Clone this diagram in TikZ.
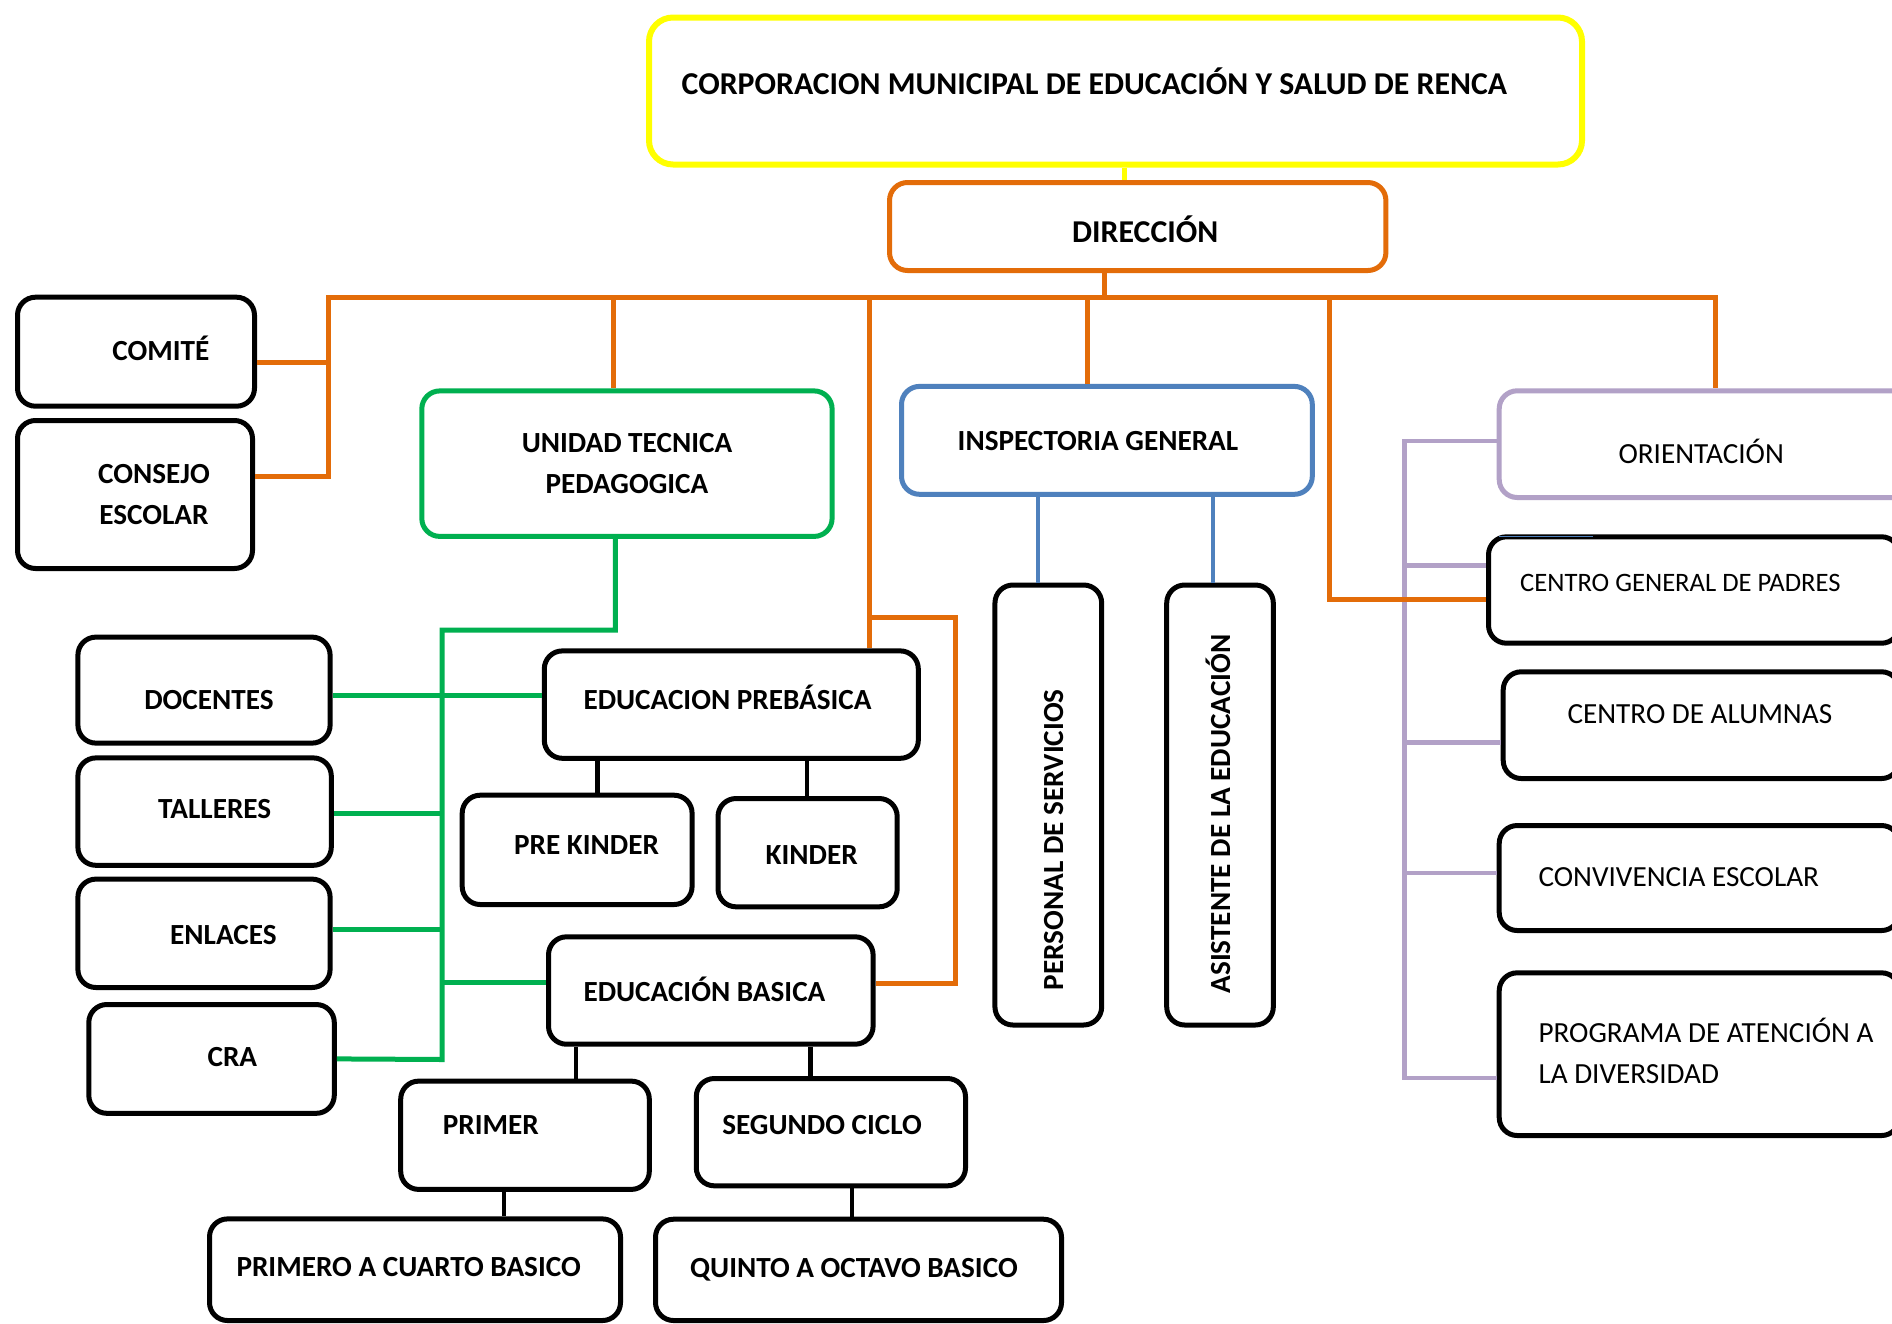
\documentclass[tikz,border=0pt]{standalone}
\usepackage{fontspec}
\setmainfont{Carlito}
\definecolor{cyel}{HTML}{FFFF00}
\definecolor{corg}{HTML}{E36C09}
\definecolor{cgrn}{HTML}{00B050}
\definecolor{cblu}{HTML}{4F81BD}
\definecolor{clil}{HTML}{B2A1C7}
\newcommand{\tbxl}[3]{\makebox[#1pt][l]{\hspace*{#2pt}#3}}
\newcommand{\natsp}{\spaceskip=0pt\xspaceskip=0pt\relax}
\tikzset{
  box/.style={draw=black, fill=white, rounded corners=18pt, line width=5pt, inner sep=0pt, anchor=north west},
  fb/.style={font=\fontsize{29.2pt}{41pt}\selectfont\bfseries},
  fr/.style={font=\fontsize{29.2pt}{41pt}\selectfont},
  ft/.style={font=\fontsize{31.8pt}{41pt}\selectfont\bfseries},
  fs/.style={font=\fontsize{26.6pt}{41pt}\selectfont},
  oline/.style={draw=corg, line width=5pt},
  gline/.style={draw=cgrn, line width=5pt},
  bline/.style={draw=cblu, line width=4pt},
  lline/.style={draw=clil, line width=4.5pt},
  kline/.style={draw=black, line width=4.5pt},
  yline/.style={draw=cyel, line width=5pt},
}
\begin{document}
\begin{tikzpicture}[x=1pt, y=-1pt]
\path[use as bounding box, fill=white] (0,0) rectangle (1892,1323);
\clip (0,0) rectangle (1892,1323);

% ---------- boxes ----------
\node[box, ft, draw=cyel, line width=6pt, rounded corners=24pt, minimum width=933pt, minimum height=147pt, text height=6.2pt, text depth=0pt] (title) at (646,14.5)
  {\tbxl{933}{32.7}{CORPORACION MUNICIPAL DE EDUCACIÓN Y SALUD DE RENCA}};
\node[box, ft, draw=corg, minimum width=496.4pt, minimum height=88pt, text height=31.3pt, text depth=0pt] (dir) at (887,180)
  {\tbxl{496.4}{182.7}{DIRECCIÓN}};

\node[box, fb, minimum width=237pt, minimum height=109pt, text height=17.7pt, text depth=0pt] (comite) at (15,294.7)
  {\tbxl{237}{94.8}{COMITÉ}};
\node[box, fb, minimum width=235pt, minimum height=148pt, text width=235pt, align=flush center, text height=18.5pt, text depth=41pt] (consejo) at (15,418)
  {\natsp\hspace*{38pt}CONSEJO\\\hspace*{38pt}ESCOLAR};

\node[box, fb, draw=cgrn, minimum width=410.3pt, minimum height=145.5pt, text width=410.3pt, align=flush center, text height=18.5pt, text depth=41pt] (utp) at (419.3,388.4)
  {\natsp UNIDAD TECNICA\\PEDAGOGICA};
\node[box, fb, draw=cblu, minimum width=410.8pt, minimum height=107.9pt, text height=20.8pt, text depth=0pt] (insp) at (899,383.9)
  {\tbxl{410.8}{56.2}{INSPECTORIA GENERAL}};
\node[box, fr, draw=clil, minimum width=423.3pt, minimum height=106.7pt, text height=39.6pt, text depth=0pt] (orient) at (1496.7,388.3)
  {\tbxl{423.3}{119.3}{ORIENTACIÓN}};

\node[box, fs, minimum width=411pt, minimum height=106.4pt, text height=3.4pt, text depth=0pt] (cgp) at (1486,534.3)
  {\tbxl{411}{31.7}{CENTRO GENERAL DE PADRES}};
\node[box, fr, minimum width=396.3pt, minimum height=106.7pt, text height=0pt, text depth=3.4pt] (alum) at (1500.7,669.3)
  {\tbxl{396.3}{64.3}{CENTRO DE ALUMNAS}};
\node[box, fr, minimum width=400.3pt, minimum height=105pt, text height=17.1pt, text depth=0pt] (conv) at (1496.7,823)
  {\tbxl{400.3}{39.3}{CONVIVENCIA ESCOLAR}};
\node[box, fr, minimum width=400.3pt, minimum height=162.7pt, text width=321.7pt, inner xsep=39.3pt, align=flush left, text height=18.5pt, text depth=41pt] (prog) at (1496.7,970.3)
  {\natsp\mbox{PROGRAMA DE ATENCIÓN A}\\\mbox{LA DIVERSIDAD}};

\node[box, fb, anchor=center, rotate=90, minimum width=440pt, minimum height=106.7pt, text height=29.5pt, text depth=0pt] (pers) at (1048.3,805)
  {\tbxl{440}{35}{PERSONAL DE SERVICIOS}};
\node[box, fb, anchor=center, rotate=90, minimum width=440pt, minimum height=106.6pt, text height=20.9pt, text depth=0pt] (asis) at (1220,805)
  {\tbxl{440}{31.7}{ASISTENTE DE LA EDUCACIÓN}};

\node[box, fb, minimum width=374pt, minimum height=107.4pt, text height=9.3pt, text depth=0pt] (preb) at (541.8,648.4)
  {\tbxl{374}{39.2}{EDUCACION PREBÁSICA}};
\node[box, fb, minimum width=229.9pt, minimum height=109.3pt, text height=10.2pt, text depth=0pt] (prek) at (459.7,792.7)
  {\tbxl{229.9}{51.9}{PRE KINDER}};
\node[box, fb, minimum width=179.2pt, minimum height=108.3pt, text height=23pt, text depth=0pt] (kind) at (715.5,796)
  {\tbxl{179.2}{47.7}{KINDER}};
\node[box, fb, minimum width=324.6pt, minimum height=107.4pt, text height=21.7pt, text depth=0pt] (basi) at (546,934.3)
  {\tbxl{324.6}{35}{EDUCACIÓN BASICA}};
\node[box, fb, minimum width=248.6pt, minimum height=108.3pt, text height=0pt, text depth=1.8pt] (prim) at (398.2,1078.6)
  {\tbxl{248.6}{42.2}{PRIMER}};
\node[box, fb, minimum width=269.2pt, minimum height=107.3pt, text height=4.4pt, text depth=0pt] (segu) at (693.8,1076)
  {\tbxl{269.2}{26}{SEGUNDO CICLO}};
\node[box, fb, minimum width=411pt, minimum height=101.6pt, text height=14.1pt, text depth=0pt] (p14) at (207,1216.4)
  {\tbxl{411}{27}{PRIMERO A CUARTO BASICO}};
\node[box, fb, minimum width=406pt, minimum height=101.3pt, text height=14.8pt, text depth=0pt] (q58) at (653,1216.7)
  {\tbxl{406}{34.7}{QUINTO A OCTAVO BASICO}};

\node[box, fb, minimum width=252.2pt, minimum height=106pt, text height=39.7pt, text depth=0pt] (doc) at (75.4,634.6)
  {\tbxl{252.2}{66.4}{DOCENTES}};
\node[box, fb, minimum width=253.4pt, minimum height=107.4pt, text height=14.3pt, text depth=0pt] (tal) at (75.4,755.4)
  {\tbxl{253.4}{80.3}{TALLERES}};
\node[box, fb, minimum width=252.2pt, minimum height=108.4pt, text height=23.1pt, text depth=0pt] (enl) at (75.4,876.6)
  {\tbxl{252.2}{92.3}{ENLACES}};
\node[box, fb, minimum width=245.5pt, minimum height=108.8pt, text height=15.3pt, text depth=0pt] (cra) at (86.3,1002)
  {\tbxl{245.5}{118.8}{CRA}};

% small blue stroke on the top edge of CENTRO GENERAL DE PADRES
\coordinate (cgpb) at (1499.3,536.7);
\draw[draw=cblu, line width=1.5pt] (cgpb) -- (cgpb -| 1593.3,0);

% ---------- coordinates ----------
\coordinate (jy) at (1124.6,0);
\coordinate (busL) at (328.8,297.7);
\coordinate (busR) at (1715.2,297.7);
\coordinate (jdir) at (1104.1,297.7);
\coordinate (jcom) at (328.8,362.8);
\coordinate (jcons) at (328.8,476.5);
\coordinate (jutp) at (613.6,297.7);
\coordinate (jpre) at (869.4,297.7);
\coordinate (jloop) at (869.4,617);
\coordinate (jloopR) at (955.5,617);
\coordinate (jloopB) at (955.5,983);
\coordinate (jins) at (1087.2,297.7);
\coordinate (jcgp) at (1329.7,297.7);
\coordinate (jcgpB) at (1329.7,599);

\coordinate (gA) at (615.4,630);
\coordinate (gB) at (442.2,630);
\coordinate (gC) at (442.2,1059.5);
\coordinate (gD) at (0,695.9);
\coordinate (gT) at (0,813.5);
\coordinate (gE) at (0,929.6);
\coordinate (gF) at (0,982.7);

\coordinate (b1) at (1038.3,0);
\coordinate (b2) at (1213.3,0);

\coordinate (lT) at (1404.5,441);
\coordinate (lB) at (1404.5,1078);
\coordinate (l2) at (1404.5,565.7);
\coordinate (l3) at (1404.5,742.7);
\coordinate (l4) at (1404.5,873);

\coordinate (k1) at (597.3,0);
\coordinate (k2) at (807.2,0);
\coordinate (k3) at (576.2,0);
\coordinate (k4) at (810.3,0);
\coordinate (k5) at (503.8,0);
\coordinate (k6) at (851.8,0);

% ---------- connectors ----------
\draw[yline] (title.south -| jy) -- (dir.north -| jy);

\draw[lline] (orient.west |- lT) -- (lT) -- (lB) -- (prog.west |- lB);
\draw[lline] (l2) -- (cgp.west |- l2);
\draw[lline] (l3) -- (alum.west |- l3);
\draw[lline] (l4) -- (conv.west |- l4);

\draw[oline] (dir.south -| jdir) -- (jdir);
\draw[oline] (consejo.east |- jcons) -- (jcons) -- (busL) -- (busR) -- (orient.north -| busR);
\draw[oline] (jcom) -- (comite.east |- jcom);
\draw[oline] (jutp) -- (utp.north -| jutp);
\draw[oline] (jpre) -- (preb.north -| jpre);
\draw[oline] (jloop) -- (jloopR) -- (jloopB) -- (basi.east |- jloopB);
\draw[oline] (jins) -- (insp.north -| jins);
\draw[oline] (jcgp) -- (jcgpB) -- (cgp.west |- jcgpB);

\draw[gline] (utp.south -| gA) -- (gA) -- (gB) -- (gC) -- (cra.east);
\draw[gline] (doc.east |- gD) -- (preb.west |- gD);
\draw[gline] (tal.east |- gT) -- (gB |- gT);
\draw[gline] (enl.east |- gE) -- (gB |- gE);
\draw[gline] (gB |- gF) -- (basi.west |- gF);

\draw[bline] (insp.south -| b1) -- (pers.east -| b1);
\draw[bline] (insp.south -| b2) -- (asis.east -| b2);

\draw[kline] (preb.south -| k1) -- (prek.north -| k1);
\draw[kline] (preb.south -| k2) -- (kind.north -| k2);
\draw[kline] (basi.south -| k3) -- (prim.north -| k3);
\draw[kline] (basi.south -| k4) -- (segu.north -| k4);
\draw[kline] (prim.south -| k5) -- (p14.north -| k5);
\draw[kline] (segu.south -| k6) -- (q58.north -| k6);
\end{tikzpicture}
\end{document}
